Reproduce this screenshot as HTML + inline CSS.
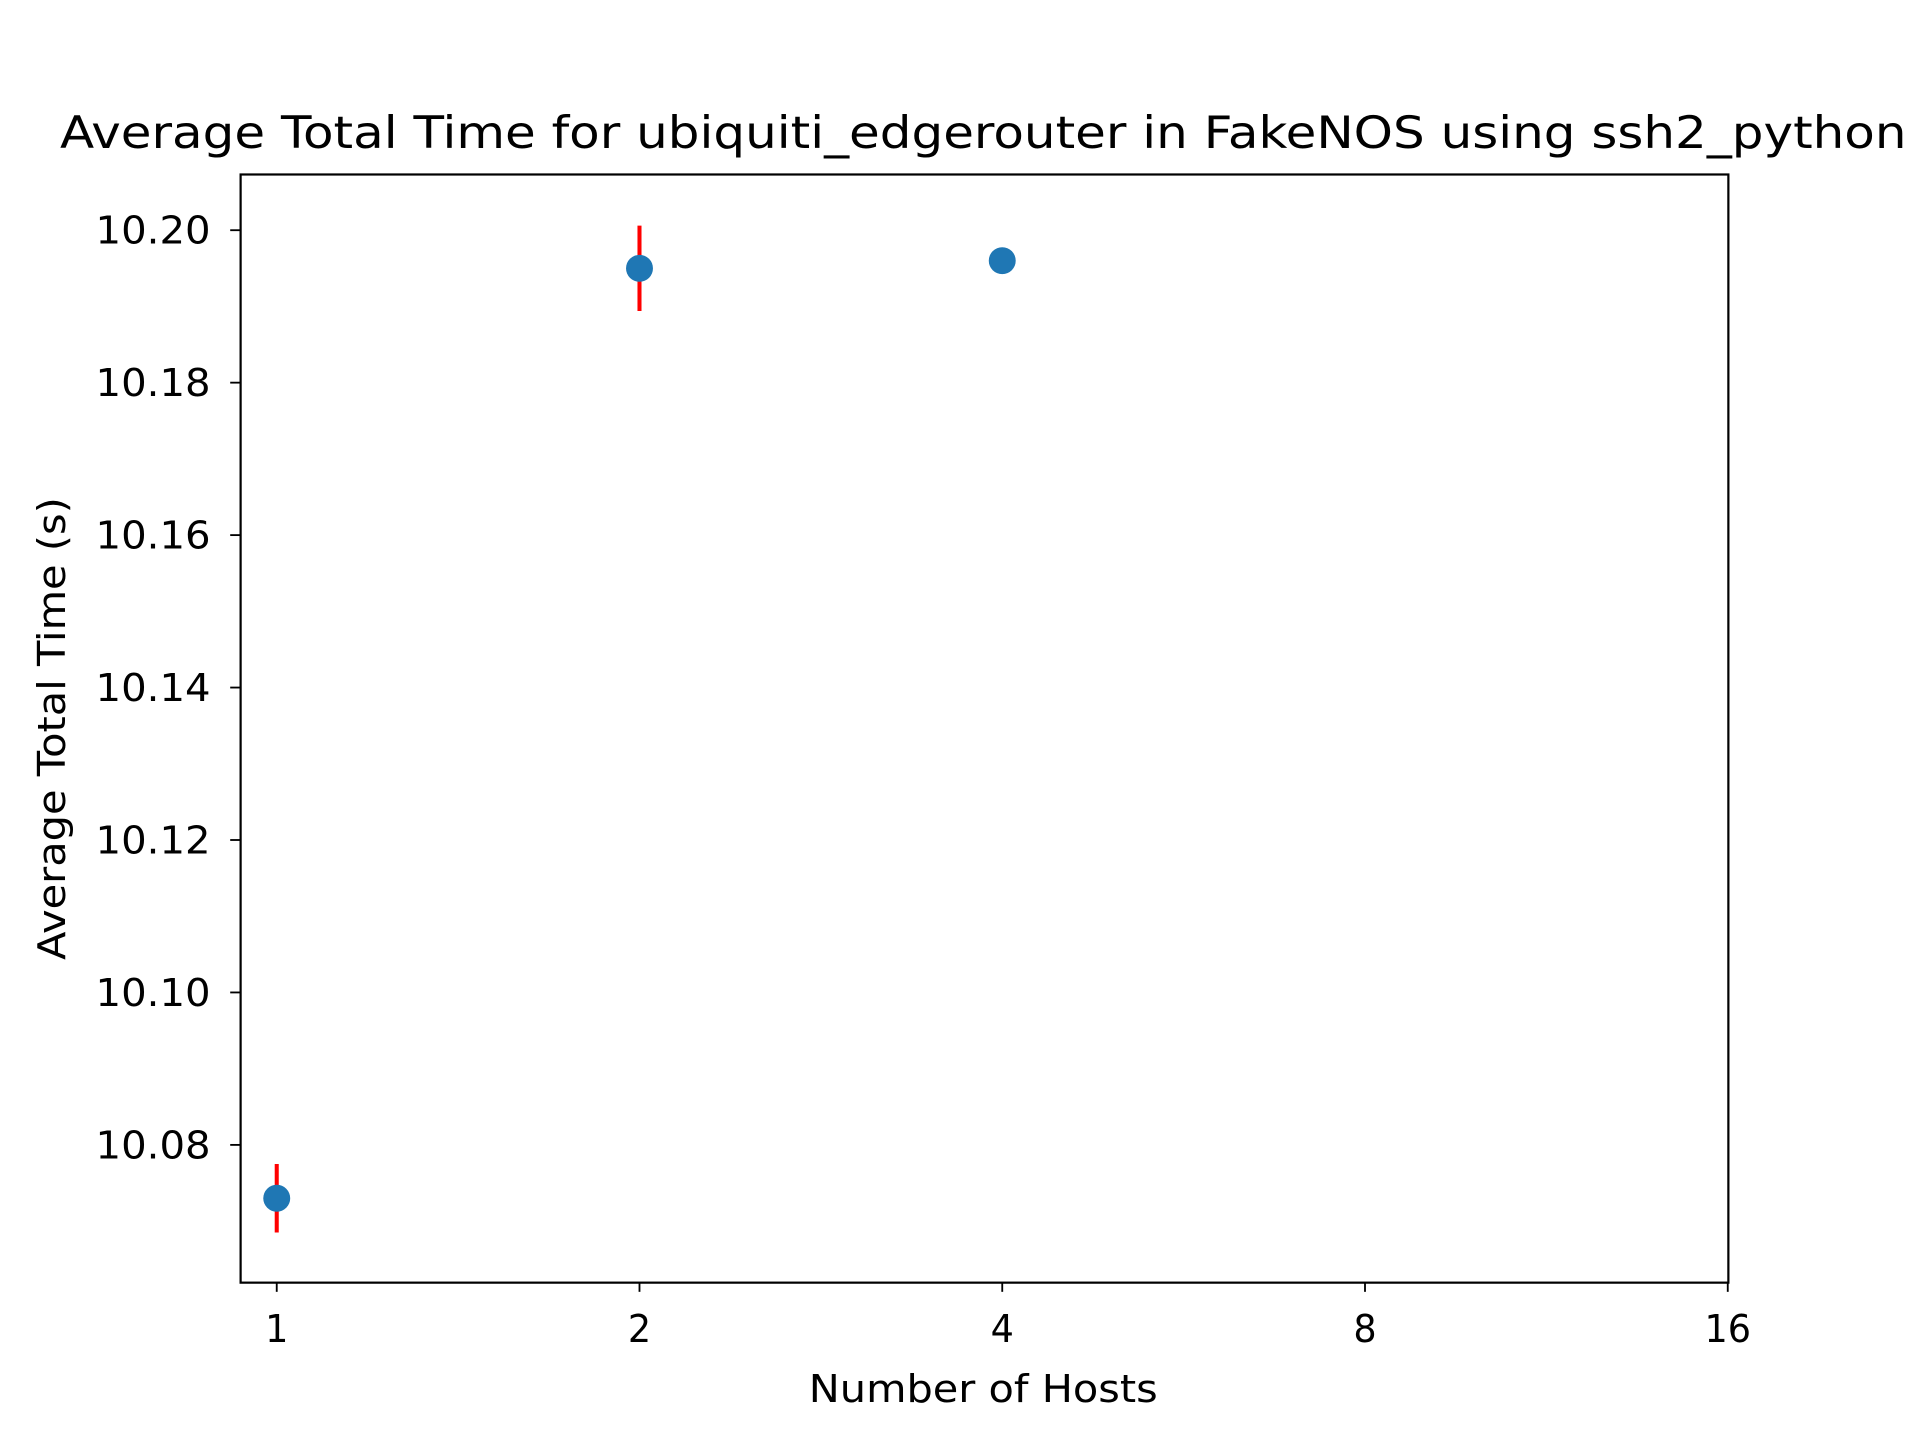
<!DOCTYPE html>
<html><head><meta charset="utf-8"><style>html,body{margin:0;padding:0;background:#fff}svg{display:block}</style></head>
<body>
<svg width="1920" height="1440" viewBox="0 0 1568 1176" xmlns="http://www.w3.org/2000/svg" font-family="'DejaVu Sans', 'Liberation Sans', sans-serif">
<rect width="1568" height="1176" fill="#fff"/>
<text x="803" y="121" font-size="36" text-anchor="middle" textLength="1508" lengthAdjust="spacingAndGlyphs">Average Total Time for ubiquiti_edgerouter in FakeNOS using ssh2_python</text>
<g id="ticks"></g>
<g id="marks"></g>
<rect x="196.5" y="142.5" width="1215" height="905" fill="none" stroke="#000" stroke-width="1.8"/>
<text x="803" y="1145" font-size="31" text-anchor="middle" textLength="285" lengthAdjust="spacingAndGlyphs">Number of Hosts</text>
<text transform="translate(53,595) rotate(-90)" font-size="31" text-anchor="middle" textLength="378" lengthAdjust="spacingAndGlyphs">Average Total Time (s)</text>
</svg>
<script>
const hosts = [1, 2, 4];
const means = [10.073, 10.195, 10.196];
const errs = [0.0045, 0.0056, 0.0];
const xTicks = [1, 2, 4, 8, 16];
const yTicks = [10.08, 10.10, 10.12, 10.14, 10.16, 10.18, 10.20];
const NS = 'http://www.w3.org/2000/svg';
function xs(v){ return 226 + 296.25*Math.log2(v); }
function ys(v){ return 188 + (10.20 - v)/0.02*124.5; }
function mk(tag, attrs, parent){ const e=document.createElementNS(NS,tag); for(const k in attrs) e.setAttribute(k,attrs[k]); parent.appendChild(e); return e; }
const tg=document.getElementById('ticks'), mg=document.getElementById('marks');
xTicks.forEach(v=>{
  const l=mk('line',{x1:xs(v),x2:xs(v),y1:1047,y2:1055,stroke:'#000','stroke-width':1.5},tg);
  
  
  const s=String(v);
  const t=mk('text',{x:xs(v),y:1096,'font-size':31,'text-anchor':'middle',textLength:19*s.length,lengthAdjust:'spacingAndGlyphs'},tg);
  t.textContent=s;
  
  
});
yTicks.forEach(v=>{
  const l=mk('line',{x1:188,x2:196,y1:ys(v),y2:ys(v),stroke:'#000','stroke-width':1.5},tg);
  
  
  const t=mk('text',{x:172,y:ys(v)+11,'font-size':31,'text-anchor':'end',textLength:94,lengthAdjust:'spacingAndGlyphs'},tg);
  t.textContent=v.toFixed(2);
  
  
});
hosts.forEach((h,i)=>{
  if(errs[i]>0){
    const e=mk('line',{x1:xs(h),x2:xs(h),y1:ys(means[i]-errs[i]),y2:ys(means[i]+errs[i]),stroke:'#ff0000','stroke-width':3.3},mg);
    
    
  }
  const c=mk('circle',{cx:xs(h),cy:ys(means[i]),r:11,fill:'#1f77b4'},mg);
  
  
});
</script>
</body></html>
